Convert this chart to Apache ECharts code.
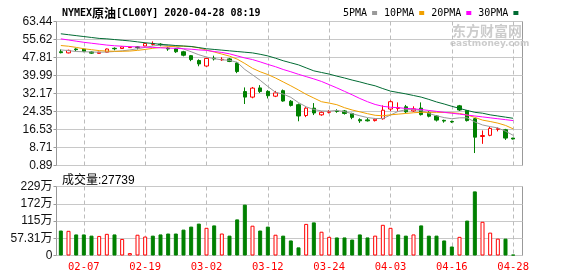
<!DOCTYPE html>
<html><head><meta charset="utf-8">
<script src="https://cdn.jsdelivr.net/npm/echarts@6/dist/echarts.min.js"></script>
<style>html,body{margin:0;padding:0;background:#fff}#c{width:578px;height:276px;background:#fff}</style>
</head><body><div id="c"></div>
<script>
const dates = ['02-04','02-05','02-06','02-07','02-10','02-11','02-12','02-13','02-14','02-17','02-18','02-19','02-20','02-21','02-24','02-25','02-26','02-27','02-28','03-02','03-03','03-04','03-05','03-06','03-09','03-10','03-11','03-12','03-13','03-16','03-17','03-18','03-19','03-20','03-23','03-24','03-25','03-26','03-27','03-30','03-31','04-01','04-02','04-03','04-06','04-07','04-08','04-09','04-13','04-14','04-15','04-16','04-17','04-20','04-21','04-22','04-23','04-24','04-27','04-28'];
const openP  = [50.3,49.8,51.5,51.4,50.2,49.6,50.1,51.8,51.7,52.1,52.4,52.8,53.5,53.6,51.9,51.6,50.3,48.6,46.5,44.1,47.5,46.8,47.2,45.4,33.0,30.6,34.6,33.1,31.0,33.4,28.8,27.3,22.6,25.8,22.9,24.0,24.6,24.6,23.5,20.8,20.7,20.4,21.2,25.4,25.7,26.4,24.6,25.8,23.9,22.4,20.5,20.0,26.8,24.8,21.2,13.5,14.0,16.6,16.4,12.8];
const closeP = [49.9,50.9,51.2,50.4,49.7,50.1,51.5,51.6,52.4,52.3,52.2,53.9,53.8,53.3,51.5,50.3,48.8,46.9,45.0,47.4,47.2,47.0,46.1,41.7,30.6,34.5,33.0,31.2,32.4,28.9,27.0,22.4,25.8,23.7,24.0,24.3,24.4,23.5,21.8,20.3,20.3,21.0,24.9,28.6,26.0,24.2,25.5,23.0,22.3,20.6,20.2,19.8,25.0,20.4,13.2,13.9,17.0,16.9,12.8,12.4];
const lowP   = [49.6,49.6,50.6,50.1,49.4,49.5,50.0,50.9,51.5,52.0,51.3,52.7,53.0,52.7,50.7,49.8,48.3,46.2,44.0,43.8,46.5,46.3,45.8,41.0,27.6,30.1,32.4,30.0,30.6,28.6,26.5,20.1,21.9,22.8,22.5,23.5,23.8,23.0,21.0,19.4,20.0,20.0,20.8,24.5,24.6,23.6,24.2,22.6,21.8,20.0,19.5,19.4,24.6,20.0,6.3,10.3,13.6,15.7,12.0,12.2];
const highP  = [51.3,51.2,51.8,51.6,50.5,50.3,51.7,52.2,52.6,52.4,52.6,54.0,54.8,54.0,52.3,51.9,50.7,48.9,47.0,47.7,48.6,47.9,47.6,45.9,34.8,35.0,35.8,33.6,33.3,33.9,29.3,27.8,26.2,28.0,24.4,25.0,25.3,25.0,23.8,21.4,21.5,21.5,27.0,29.2,28.3,27.2,26.6,28.3,24.5,22.8,20.8,20.4,27.2,25.0,21.5,16.1,17.6,17.4,16.8,12.9];
const ma5  = [51.1,50.8,50.4,50.3,50.2,50.1,50.2,50.4,50.7,51.1,51.6,52.2,52.8,53.2,53.0,52.4,51.5,50.3,49.0,48.0,47.3,46.8,46.6,45.7,42.6,40.3,37.9,35.2,32.7,31.9,30.5,28.2,26.4,25.2,24.6,24.5,24.8,24.3,23.4,22.5,21.7,21.3,21.3,22.8,24.4,25.1,25.2,24.8,23.5,22.5,21.7,21.2,21.6,21.6,19.8,18.5,17.8,17.2,15.8,14.0];
const ma10 = [53.0,52.7,52.2,51.6,51.2,50.8,50.6,50.5,50.5,50.6,50.9,51.3,51.8,52.2,52.5,52.7,52.7,52.5,52.0,51.0,50.2,49.3,48.4,47.1,45.2,43.1,41.6,40.4,38.9,37.2,35.5,33.7,31.8,30.2,28.6,28.0,27.3,26.0,25.0,24.2,23.4,22.7,22.5,22.9,23.2,23.5,23.8,24.0,24.0,24.0,23.9,23.8,23.5,22.8,21.8,20.6,20.0,19.3,18.3,16.8];
const ma20 = [55.9,55.4,54.9,54.4,54.0,53.6,53.2,52.9,52.7,52.5,52.4,52.3,52.2,52.0,51.9,51.8,51.6,51.4,51.1,50.9,50.4,50.0,49.4,48.5,47.6,46.9,45.9,44.8,43.8,42.6,41.6,40.5,39.5,38.5,37.4,36.0,34.6,33.1,31.6,30.0,28.6,27.4,26.6,26.2,26.0,25.7,25.5,25.2,24.8,24.4,24.0,23.6,23.2,22.8,22.4,22.0,21.6,21.2,20.8,20.4];
const ma30 = [58.1,57.7,57.3,56.9,56.5,56.1,55.9,55.6,55.3,55.0,54.6,54.2,53.9,53.5,53.3,53.0,52.8,52.6,52.1,51.6,51.3,51.0,50.7,50.4,50.1,49.8,49.2,48.5,47.5,46.4,45.5,44.6,43.3,42.0,41.3,40.6,39.7,38.9,38.0,37.2,36.3,35.5,34.3,33.2,32.6,32.0,31.3,30.6,29.6,28.5,27.6,26.6,25.7,24.8,24.0,23.6,22.9,22.4,21.9,21.4];
const volWan = [83,82,70,70,66,65,72,70,55,8,69,63,66,70,73,73,86,96,106,92,100,73,66,120,169,99,83,96,69,66,50,27,105,110,79,62,60,60,53,70,60,66,102,92,70,66,70,100,66,66,50,30,62,116,213,112,76,56,56,2.7739];
const volUp  = [0,1,0,0,0,1,1,0,1,1, 1,1,0,0,0,0,0,0,0,1, 0,1,0,0,0,1,0,0,1,0, 0,0,1,0,1,1,0,0,0,0, 0,1,1,1,0,0,1,0,0,0, 0,0,1,0,0,1,1,1,0,0];
const priceTickLabels = ['0.89','8.71','16.53','24.35','32.17','39.99','47.81','55.62','63.44'];
const volTickValues = [0,57.31,114.62,171.93,229.24];
const volTickLabels = ['0','57.31万','115万','172万','229万'];
const labelDates = ['02-07','02-19','03-02','03-12','03-24','04-03','04-16','04-28'];
const maNames = ['5PMA','10PMA','20PMA','30PMA'];
const titleMain = 'NYMEX原油[CL00Y] 2020-04-28 08:19';

const priceTickVals = priceTickLabels.map(Number);
const pMin = priceTickVals[0], pMax = priceTickVals[priceTickVals.length-1];
const vMax = volTickValues[volTickValues.length-1];
const RED = '#ff0000', GREEN = '#008000', GRID = '#c8c8c8', DASH = '#bcbcbc', BORDER = '#999999';
const monoFont = 'DejaVu Sans Mono';

const chart = echarts.init(document.getElementById('c'));
const mCol = ['#999999','#f0a000','#ff00ff','#006b33'];
const maData = [ma5, ma10, ma20, ma30];
const lastVol = Math.round(volWan[volWan.length-1]*10000);
const titleParts = titleMain.split('原油');

const L = 57, W = 460, band = W / dates.length;
const PT = 21.5, PH = 144, VT = 186.5, VH = 69;

function frameY(grid, labels, font){
  return {type:'value', gridIndex:grid, min:0, max:labels.length-1, interval:1, z:2,
    axisLine:{show:false},
    axisTick:{show:true, length:3, lineStyle:{color:BORDER}},
    axisLabel:{show:true, margin:4, fontFamily:font, fontSize:12, color:'#111', formatter:v=>labels[Math.round(v)]},
    splitLine:{show:true, lineStyle:{color:GRID, width:1}}};
}
function dashX(grid){
  return {type:'category', gridIndex:grid, data:dates, boundaryGap:false, z:2, axisLine:{show:false}, axisTick:{show:false},
    axisLabel:{show:false}, splitLine:{show:true, interval:(i,v)=>labelDates.indexOf(v)>=0, lineStyle:{color:DASH, width:1, type:[4,3]}}};
}

chart.setOption({
  animation:false,
  title:[
    {left:57, top:2, text:'{a|'+titleParts[0]+'}{b|原油}{a|'+titleParts[1]+'}',
     textStyle:{rich:{a:{fontFamily:monoFont,fontSize:10,color:'#000'},b:{fontFamily:'Noto Sans CJK SC',fontSize:12,color:'#000'}}}},
    {left:57, top:170, text:'成交量:'+lastVol, textStyle:{fontFamily:'Liberation Sans, Noto Sans CJK SC',fontSize:12,fontWeight:'normal',color:'#000'}}
  ],
  legend:{left:338, top:3, itemWidth:5, itemHeight:4, itemGap:7, align:'right', icon:'rect',
    data:maNames, textStyle:{fontFamily:monoFont,fontSize:10,color:'#000'}},
  graphic:[
    {type:'text', left:452, top:24, silent:true, style:{text:'东方财富网', font:'bold 14px "Noto Sans CJK SC"', fill:'#cccccc'}},
    {type:'text', left:450, top:39, silent:true, style:{text:'eastmoney.com', font:'bold 9px "DejaVu Sans"', fill:'#cccccc'}}
  ],
  grid:[
    {left:L, top:PT, width:W, height:PH},
    {left:L, top:VT, width:W, height:VH},
    {left:56.5, top:PT, width:466, height:PH, show:true, borderColor:BORDER, borderWidth:1},
    {left:56.5, top:VT, width:466, height:VH, show:true, borderColor:BORDER, borderWidth:1},
    {left:L + band/2, top:PT, width:W - band, height:PH},
    {left:L + band/2, top:VT, width:W - band, height:VH}
  ],
  xAxis:[
    {type:'category', gridIndex:0, data:dates, show:false},
    {type:'category', gridIndex:1, data:dates, axisLine:{show:false}, axisTick:{show:false}, splitLine:{show:false},
     axisLabel:{interval:(idx,val)=>labelDates.indexOf(val)>=0, color:RED, fontFamily:monoFont, fontSize:10.5, margin:6}},
    {type:'value', gridIndex:2, min:0, max:1, show:false},
    {type:'value', gridIndex:3, min:0, max:1, show:false},
    dashX(4),
    dashX(5)
  ],
  yAxis:[
    {type:'value', gridIndex:0, min:pMin, max:pMax, show:false},
    {type:'value', gridIndex:1, min:0, max:vMax, show:false},
    frameY(2, priceTickLabels, 'Liberation Sans'),
    frameY(3, volTickLabels, 'Liberation Sans, Noto Sans CJK SC'),
    {type:'value', gridIndex:4, min:0, max:1, show:false},
    {type:'value', gridIndex:5, min:0, max:1, show:false}
  ],
  series:[
    {type:'candlestick', xAxisIndex:0, yAxisIndex:0, z:3, barWidth:4,
     itemStyle:{color:'#ffffff', color0:GREEN, borderColor:RED, borderColor0:GREEN, borderWidth:1},
     data:dates.map((d,i)=>[openP[i], closeP[i], lowP[i], highP[i]])},
    ...maNames.map((n,k)=>({name:n, type:'line', xAxisIndex:0, yAxisIndex:0, z:5, symbol:'none', showSymbol:false,
      color:mCol[k], lineStyle:{color:mCol[k], width:1}, data:maData[k]})),
    {type:'bar', xAxisIndex:1, yAxisIndex:1, z:3, barWidth:4,
     data:volWan.map((v,i)=>({value:v, itemStyle: volUp[i] ? {color:'#ffffff', borderColor:RED, borderWidth:1} : {color:GREEN, borderColor:GREEN, borderWidth:1}}))}
  ]
});
</script></body></html>
